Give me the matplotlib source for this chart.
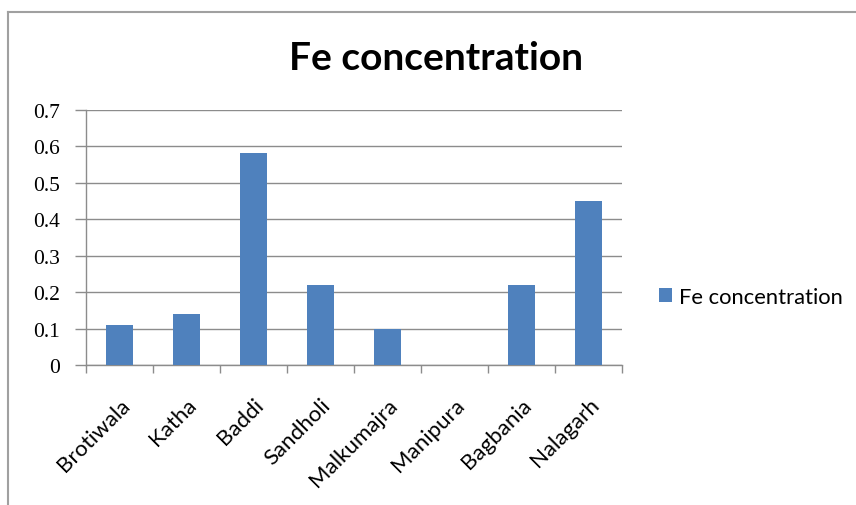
import numpy as np
import matplotlib
matplotlib.use("Agg")
import matplotlib.pyplot as plt
from matplotlib.lines import Line2D
from matplotlib.patches import Patch

# data
sites = ["Brotiwala", "Katha", "Baddi", "Sandholi", "Malkumajra",
         "Manipura", "Bagbania", "Nalagarh"]
fe_values = [0.11, 0.14, 0.58, 0.22, 0.10, 0.0, 0.22, 0.45]
y_ticks = [0, 0.1, 0.2, 0.3, 0.4, 0.5, 0.6, 0.7]
y_tick_labels = ["0", "0.1", "0.2", "0.3", "0.4", "0.5", "0.6", "0.7"]
series_name = "Fe concentration"

bar_color = "#4F81BD"
grid_color = "#8C8C8C"


def main():
    fig = plt.figure(figsize=(8.56, 5.06), dpi=100)
    ax = fig.add_axes([86 / 856, 1 - 366 / 506, 536 / 856, 255.3 / 506])

    x = np.arange(len(sites))
    ax.bar(x, fe_values, width=0.4, color=bar_color, zorder=3)

    # ============== axes config ==============
    ax.set_xlim(-0.5, len(sites) - 0.5)
    ax.set_ylim(0, 0.7)
    ax.set_yticks(y_ticks)
    ax.set_yticklabels(y_tick_labels, family="Liberation Serif", fontsize=15.5)
    ax.yaxis.grid(True, color=grid_color, lw=1.0, zorder=0)
    ax.tick_params(axis="y", length=8, color=grid_color, pad=11, width=1.0)

    ax.set_xticks(x)
    ax.set_xticklabels(sites, family="Lato", fontsize=16, rotation=45,
                       ha="right", rotation_mode="anchor")
    ax.tick_params(axis="x", which="major", length=0, pad=21)
    ax.set_xticks(np.arange(len(sites) + 1) - 0.5, minor=True)
    ax.tick_params(axis="x", which="minor", length=6, color=grid_color, width=1.0)

    for side in ["top", "right"]:
        ax.spines[side].set_visible(False)
    for side in ["left", "bottom"]:
        ax.spines[side].set_color(grid_color)
        ax.spines[side].set_linewidth(1.0)
    # ========================================

    fig.text(436 / 856, 1 - 58 / 506, series_name, ha="center", va="center",
             family="Lato", fontweight="bold", fontsize=28)

    handle = Patch(facecolor=bar_color, edgecolor="none")
    fig.legend([handle], [series_name], loc="center left",
               bbox_to_anchor=(659 / 856, 1 - 298 / 506), frameon=False,
               prop={"family": "Lato", "size": 15.8},
               handlelength=0.6, handleheight=0.6, handletextpad=0.3,
               borderpad=0, borderaxespad=0)

    # outer chart frame (only left and top edges are visible)
    fig.add_artist(Line2D([8 / 856, 8 / 856], [0, 1 - 13 / 506],
                          transform=fig.transFigure, color="#A0A0A0", lw=1.5))
    fig.add_artist(Line2D([8 / 856, 1], [1 - 13 / 506, 1 - 13 / 506],
                          transform=fig.transFigure, color="#A0A0A0", lw=1.5))

    fig.savefig("out.png", dpi=100)


if __name__ == '__main__':
    main()
